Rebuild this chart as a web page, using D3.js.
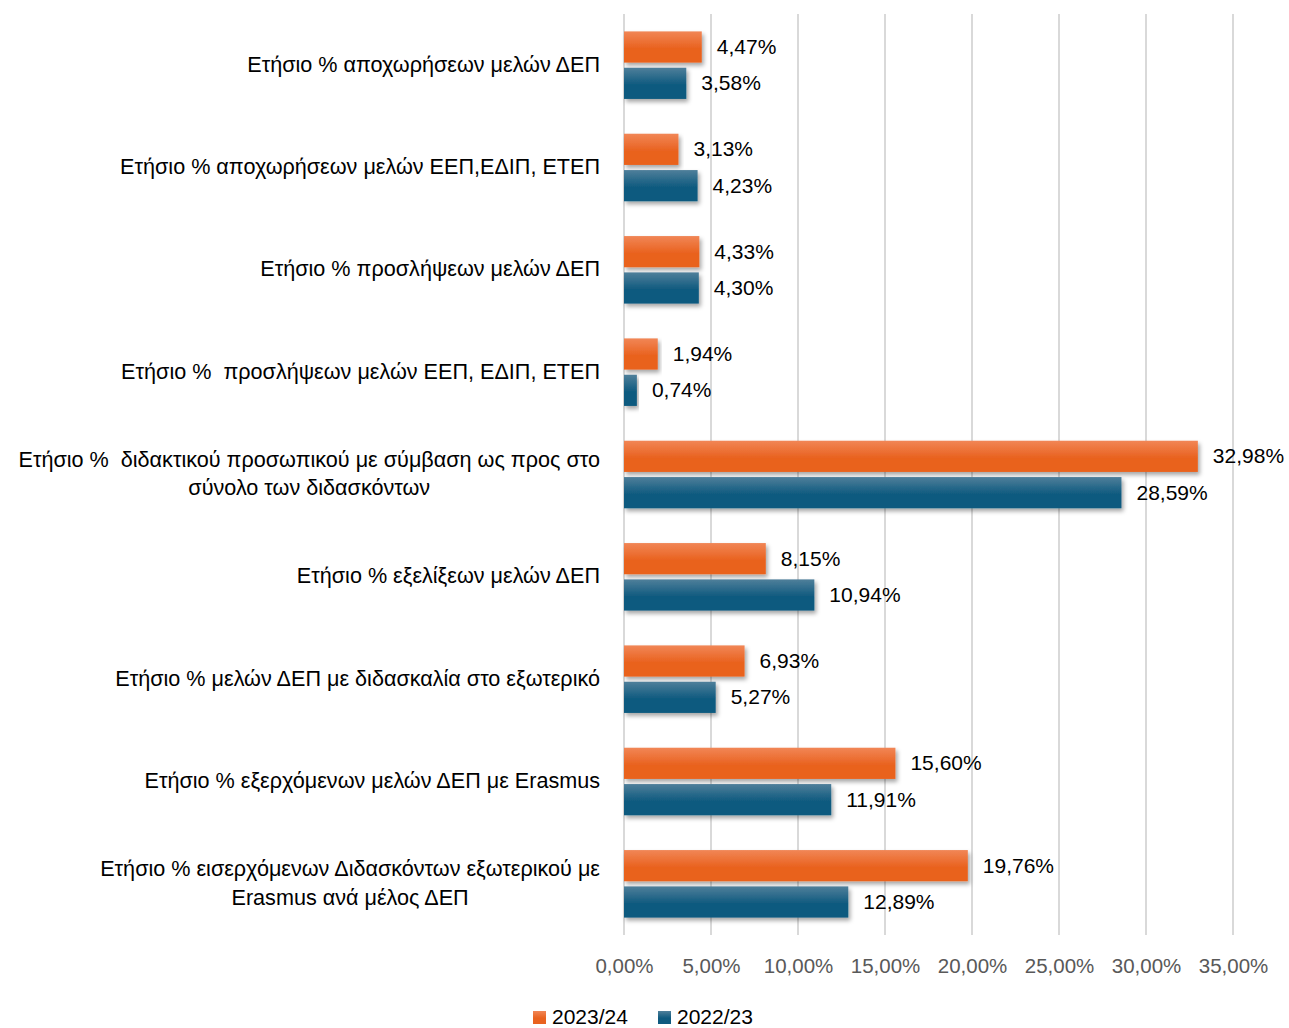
<!DOCTYPE html>
<html>
<head>
<meta charset="utf-8">
<script src="https://cdn.jsdelivr.net/npm/d3@7"></script>
<style>
  body { margin: 0; background: #fff; }
  text { font-family: "Liberation Sans", "DejaVu Sans", sans-serif; white-space: pre; }
</style>
</head>
<body>
<svg id="chart" width="1289" height="1028"></svg>
<script>
// Data
var categories = [
  ["Ετήσιο % αποχωρήσεων μελών ΔΕΠ"],
  ["Ετήσιο % αποχωρήσεων μελών ΕΕΠ,ΕΔΙΠ, ΕΤΕΠ"],
  ["Ετήσιο % προσλήψεων μελών ΔΕΠ"],
  ["Ετήσιο %  προσλήψεων μελών ΕΕΠ, ΕΔΙΠ, ΕΤΕΠ"],
  ["Ετήσιο %  διδακτικού προσωπικού με σύμβαση ως προς στο", "σύνολο των διδασκόντων"],
  ["Ετήσιο % εξελίξεων μελών ΔΕΠ"],
  ["Ετήσιο % μελών ΔΕΠ με διδασκαλία στο εξωτερικό"],
  ["Ετήσιο % εξερχόμενων μελών ΔΕΠ με Erasmus"],
  ["Ετήσιο % εισερχόμενων Διδασκόντων εξωτερικού με", "Erasmus ανά μέλος ΔΕΠ"]
];
var values2324 = [4.47, 3.13, 4.33, 1.94, 32.98, 8.15, 6.93, 15.60, 19.76];
var values2223 = [3.58, 4.23, 4.30, 0.74, 28.59, 10.94, 5.27, 11.91, 12.89];
var seriesNames = ["2023/24", "2022/23"];
var xTicks = [0, 5, 10, 15, 20, 25, 30, 35];

/////////////////////////////////////////////////////////////
// Layout
var svg = d3.select("#chart");
var margin = {left: 624, right: 56, top: 14, bottom: 93};
var w = 1289, h = 1028;
var plotW = w - margin.left - margin.right;
var plotH = h - margin.top - margin.bottom;

var fmt = function(v) { return v.toFixed(2).replace(".", ",") + "%"; };

var xScale = d3.scaleLinear().domain([0, 35]).range([margin.left, margin.left + plotW]);
var yScale = d3.scaleBand().domain(d3.range(categories.length))
               .range([margin.top, margin.top + plotH]).paddingInner(0).paddingOuter(0);
var band = yScale.bandwidth();
var barH = band * 0.305, gap = band * 0.05;

// gradients + shadow
var defs = svg.append("defs");
function grad(id, c1, c2) {
  var g = defs.append("linearGradient").attr("id", id).attr("x1", 0).attr("y1", 0).attr("x2", 0).attr("y2", 1);
  g.append("stop").attr("offset", "0%").attr("stop-color", c1);
  g.append("stop").attr("offset", "55%").attr("stop-color", c2);
  g.append("stop").attr("offset", "100%").attr("stop-color", c2);
}
grad("gOrange", "#f18656", "#e9621f");
grad("gBlue", "#4f7f9a", "#0f5a7f");
var f = defs.append("filter").attr("id", "shadow").attr("x", "-5%").attr("y", "-20%").attr("width", "115%").attr("height", "160%");
f.append("feDropShadow").attr("dx", 2).attr("dy", 3).attr("stdDeviation", 2).attr("flood-color", "#000").attr("flood-opacity", 0.35);

// gridlines
svg.selectAll(".grid")
   .data(xTicks)
   .enter()
   .append("line")
   .attr("class", "grid")
   .attr("x1", function(d) { return xScale(d); })
   .attr("x2", function(d) { return xScale(d); })
   .attr("y1", margin.top)
   .attr("y2", margin.top + plotH)
   .style("stroke", "#d9d9d9")
   .style("stroke-width", 2);

// x axis labels
var xAxis = d3.axisBottom(xScale).tickValues(xTicks).tickSize(0).tickPadding(0)
              .tickFormat(function(d) { return d.toFixed(2).replace(".", ",") + "%"; });
var gx = svg.append("g").attr("transform", "translate(0," + (margin.top + plotH + 23) + ")").call(xAxis);
gx.select(".domain").remove();
gx.selectAll("text").style("font-size", "20.5px").style("fill", "#595959")
  .style("font-family", "Liberation Sans, sans-serif");

// bars
var series = [
  {name: seriesNames[0], vals: values2324, fill: "url(#gOrange)", off: band / 2 - gap / 2 - barH},
  {name: seriesNames[1], vals: values2223, fill: "url(#gBlue)", off: band / 2 + gap / 2}
];
series.forEach(function(s) {
  svg.selectAll(null)
     .data(s.vals)
     .enter()
     .append("rect")
     .attr("x", xScale(0))
     .attr("y", function(d, i) { return yScale(i) + s.off; })
     .attr("width", function(d) { return xScale(d) - xScale(0); })
     .attr("height", barH)
     .attr("fill", s.fill)
     .attr("filter", "url(#shadow)");
  svg.selectAll(null)
     .data(s.vals)
     .enter()
     .append("text")
     .attr("x", function(d) { return xScale(d) + 15; })
     .attr("y", function(d, i) { return yScale(i) + s.off + barH / 2; })
     .attr("dy", "0.33em")
     .style("font-size", "21px")
     .style("fill", "#000")
     .text(function(d) { return fmt(d); });
});

// category labels
var lab = svg.selectAll(".cat")
   .data(categories)
   .enter()
   .append("text")
   .attr("class", "cat")
   .attr("text-anchor", "middle")
   .style("font-size", "21.6px")
   .style("fill", "#000");
lab.each(function(lines, i) {
  var t = d3.select(this);
  var cy = yScale(i) + band / 2;
  var lh = 28.5;
  var widest = 0;
  lines.forEach(function(line, k) {
    t.append("tspan").attr("y", cy + (k - (lines.length - 1) / 2) * lh).attr("dy", "0.3em").text(line);
  });
  // right align the block, center the lines within it
  var spans = t.selectAll("tspan").nodes();
  spans.forEach(function(n) { widest = Math.max(widest, n.getComputedTextLength()); });
  var cx = 600 - widest / 2;
  t.selectAll("tspan").attr("x", cx);
});

// legend
var lg = svg.append("g").attr("transform", "translate(533,1015)");
var legendItems = [{name: seriesNames[0], fill: "url(#gOrange)", x: 0}, {name: seriesNames[1], fill: "url(#gBlue)", x: 125}];
legendItems.forEach(function(d) {
  lg.append("rect").attr("x", d.x).attr("y", -4).attr("width", 13).attr("height", 13).attr("fill", d.fill);
  lg.append("text").attr("x", d.x + 19).attr("y", 2).attr("dy", "0.35em").style("font-size", "21px").text(d.name);
});
</script>
</body>
</html>
